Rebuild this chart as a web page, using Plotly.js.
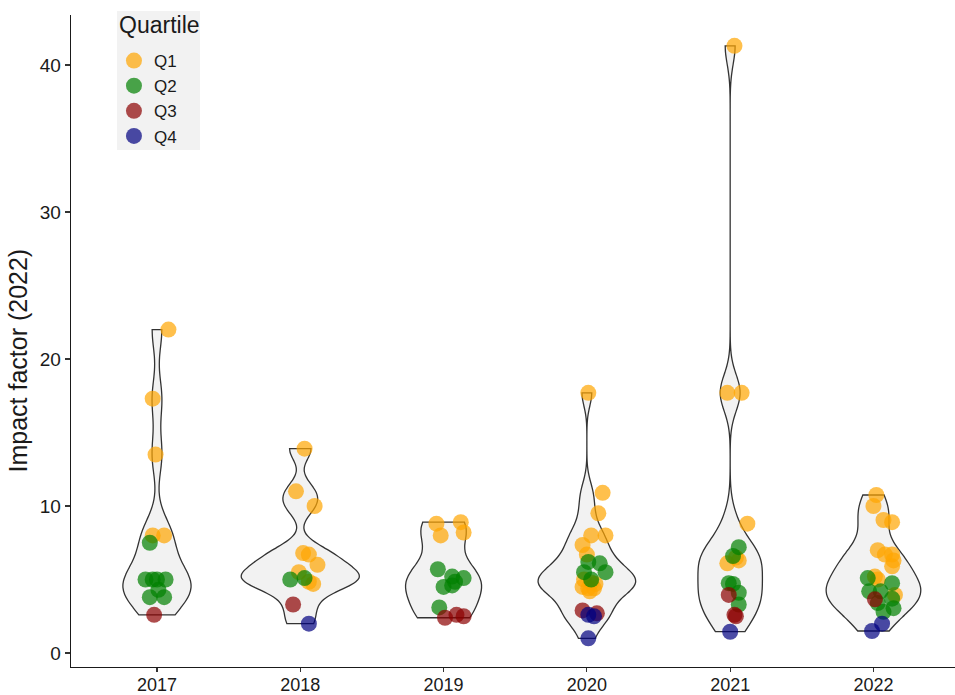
<!DOCTYPE html>
<html>
<head>
<meta charset="utf-8">
<script src="https://cdn.plot.ly/plotly-3.0.1.min.js"></script>
<style>html,body{margin:0;padding:0;background:#fff;}#chart{width:955px;height:695px;}</style>
</head>
<body>
<div id="chart"></div>
<script>
// ---- data ----
const years = ['2017', '2018', '2019', '2020', '2021', '2022'];
const quartiles = ['Q1', 'Q2', 'Q3', 'Q4'];

const pointYear = [
  '2017','2017','2017','2017','2017','2017','2017','2017','2017','2017','2017','2017','2017','2017',
  '2018','2018','2018','2018','2018','2018','2018','2018','2018','2018','2018','2018','2018',
  '2019','2019','2019','2019','2019','2019','2019','2019','2019','2019','2019','2019','2019','2019',
  '2020','2020','2020','2020','2020','2020','2020','2020','2020','2020','2020','2020','2020','2020',
  '2020','2020','2020','2020','2020','2020','2020','2020','2020','2020',
  '2021','2021','2021','2021','2021','2021','2021','2021','2021','2021','2021','2021','2021','2021',
  '2021','2021','2021',
  '2022','2022','2022','2022','2022','2022','2022','2022','2022','2022','2022','2022','2022','2022',
  '2022','2022','2022','2022','2022','2022','2022','2022','2022'
];
const pointQuartile = [
  'Q1','Q1','Q1','Q1','Q1','Q2','Q2','Q2','Q2','Q2','Q2','Q2','Q2','Q3',
  'Q1','Q1','Q1','Q1','Q1','Q1','Q1','Q1','Q1','Q2','Q2','Q3','Q4',
  'Q1','Q1','Q1','Q1','Q2','Q2','Q2','Q2','Q2','Q2','Q2','Q3','Q3','Q3',
  'Q1','Q1','Q1','Q1','Q1','Q1','Q1','Q1','Q1','Q1','Q1','Q1','Q1','Q1',
  'Q2','Q2','Q2','Q2','Q2','Q3','Q3','Q4','Q4','Q4',
  'Q1','Q1','Q1','Q1','Q1','Q1','Q1','Q2','Q2','Q2','Q2','Q2','Q2','Q3',
  'Q3','Q3','Q4',
  'Q1','Q1','Q1','Q1','Q1','Q1','Q1','Q1','Q1','Q1','Q1','Q1','Q2','Q2',
  'Q2','Q2','Q2','Q2','Q2','Q2','Q3','Q4','Q4'
];
const impactFactor = [
  22.0, 17.3, 13.5, 8.0, 8.0, 7.5, 5.0, 5.0, 5.0, 5.0, 4.3, 3.8, 3.8, 2.6,
  13.9, 11.0, 10.0, 6.8, 6.7, 6.0, 5.5, 4.85, 4.7, 5.0, 5.1, 3.3, 2.0,
  8.8, 8.9, 8.0, 8.2, 5.7, 5.2, 5.1, 4.85, 4.5, 4.6, 3.1, 2.4, 2.6, 2.5,
  17.7, 10.9, 9.5, 8.0, 8.0, 7.35, 6.7, 5.0, 4.8, 4.7, 4.5, 4.4, 4.4, 4.2,
  6.2, 6.1, 5.5, 5.5, 5.0, 2.9, 2.7, 2.6, 2.5, 1.0,
  41.3, 17.7, 17.7, 8.8, 6.1, 6.3, 6.5, 7.2, 6.6, 4.75, 4.7, 4.1, 3.3, 3.95,
  2.6, 2.5, 1.45,
  10.75, 10.0, 9.05, 8.9, 7.0, 6.7, 6.7, 6.3, 5.9, 5.2, 5.0, 3.95, 5.1, 4.75,
  4.2, 4.2, 3.4, 3.7, 3.05, 2.8, 3.65, 2.0, 1.5
];
// horizontal jitter of each point (category units)
const jitterOffset = [
  0.08, -0.03, -0.01, -0.03, 0.05, -0.05, -0.08, -0.03, 0.00, 0.06, 0.01, -0.05, 0.05, -0.02,
  0.03, -0.03, 0.10, 0.02, 0.06, 0.12, -0.01, 0.06, 0.09, -0.07, 0.03, -0.05, 0.06,
  -0.05, 0.12, -0.02, 0.14, -0.04, 0.06, 0.14, 0.08, 0.00, 0.06, -0.03, 0.01, 0.09, 0.14,
  0.01, 0.11, 0.08, 0.03, 0.13, -0.03, 0.00, -0.02, 0.03, 0.06, -0.03, 0.01, 0.05, 0.02,
  0.01, 0.09, 0.13, -0.02, 0.03, -0.03, 0.07, 0.01, 0.05, 0.01,
  0.03, -0.02, 0.08, 0.12, -0.02, 0.06, 0.04, 0.06, 0.02, -0.01, 0.02, 0.06, 0.06, -0.01,
  0.03, 0.04, 0.00,
  0.02, 0.00, 0.07, 0.13, 0.03, 0.08, 0.13, 0.14, 0.13, 0.01, 0.03, 0.15, -0.04, 0.13,
  -0.03, 0.05, 0.03, 0.13, 0.14, 0.07, 0.01, 0.06, -0.01
];
const yAxisTitle = 'Impact factor (2022)';
const legendTitle = 'Quartile';

// ---- styles ----
const quartileColors = {
  Q1: 'rgba(255,165,0,0.7)',
  Q2: 'rgba(0,128,0,0.7)',
  Q3: 'rgba(139,0,0,0.7)',
  Q4: 'rgba(0,0,128,0.7)'
};
const violinWidths = [0.475, 0.82, 0.53, 0.68, 0.45, 0.66];
const FONT = 'Arial, "Liberation Sans", sans-serif';
const TEXT = '#1a1a1a';

// R's bw.nrd0 bandwidth (ggplot2 default)
function quantile7(sorted, p) {
  const h = (sorted.length - 1) * p, lo = Math.floor(h);
  const hi = Math.min(lo + 1, sorted.length - 1);
  return sorted[lo] + (h - lo) * (sorted[hi] - sorted[lo]);
}
function nrd0(values) {
  const s = values.slice().sort((a, b) => a - b);
  const n = s.length;
  const mean = s.reduce((a, b) => a + b, 0) / n;
  const sd = Math.sqrt(s.reduce((a, b) => a + (b - mean) * (b - mean), 0) / (n - 1));
  const iqr = quantile7(s, 0.75) - quantile7(s, 0.25);
  let lo = Math.min(sd, iqr / 1.34);
  if (!(lo > 0)) lo = sd || Math.abs(s[0]) || 1;
  return 0.9 * lo * Math.pow(n, -0.2);
}

const traces = [];
years.forEach((yr, i) => {
  const vals = impactFactor.filter((v, k) => pointYear[k] === yr);
  traces.push({
    type: 'violin',
    x0: i + 1,
    y: vals,
    width: violinWidths[i],
    bandwidth: nrd0(vals),
    spanmode: 'hard',
    scalemode: 'width',
    points: false,
    box: { visible: false },
    meanline: { visible: false },
    fillcolor: '#F2F2F2',
    line: { color: '#333333', width: 1.3 },
    showlegend: false,
    hoverinfo: 'skip'
  });
});

quartiles.forEach(q => {
  const xs = [], ys = [];
  impactFactor.forEach((v, k) => {
    if (pointQuartile[k] !== q) return;
    xs.push(years.indexOf(pointYear[k]) + 1 + jitterOffset[k]);
    ys.push(v);
  });
  traces.push({
    type: 'scatter',
    mode: 'markers',
    name: q,
    x: xs,
    y: ys,
    marker: { color: quartileColors[q], size: 16, line: { width: 0 } },
    hoverinfo: 'skip'
  });
});

const axisCommon = {
  showline: true,
  linecolor: TEXT,
  linewidth: 1.4,
  ticks: 'outside',
  ticklen: 5,
  tickwidth: 1.2,
  tickcolor: '#333333',
  tickfont: { family: FONT, size: 19, color: TEXT },
  showgrid: false,
  zeroline: false,
  fixedrange: true
};

const layout = {
  width: 955,
  height: 695,
  margin: { l: 71, r: 0, t: 15, b: 28 },
  paper_bgcolor: '#ffffff',
  plot_bgcolor: '#ffffff',
  font: { family: FONT, color: TEXT },
  xaxis: Object.assign({}, axisCommon, {
    range: [0.4, 6.569],
    tickmode: 'array',
    tickvals: years.map((y, i) => i + 1),
    ticktext: years,
    ticklen: 4,
    tickfont: { family: FONT, size: 18, color: TEXT },
    ticklabelstandoff: -3
  }),
  yaxis: Object.assign({}, axisCommon, {
    range: [-0.95, 43.4],
    tickmode: 'array',
    tickvals: [0, 10, 20, 30, 40],
    ticktext: ['0', '10', '20', '30', '40']
  }),
  // legend key background panel (covers title and entries, as in the reference)
  shapes: [{
    type: 'rect', xref: 'paper', yref: 'paper', layer: 'below',
    x0: 0.052, x1: 0.146, y0: 0.793, y1: 1.006,
    fillcolor: '#F2F2F2', line: { width: 0 }
  }],
  annotations: [
    {
      text: yAxisTitle, textangle: -90,
      xref: 'paper', yref: 'paper', x: -0.06, y: 0.47,
      xanchor: 'center', yanchor: 'middle', showarrow: false,
      font: { family: FONT, size: 25, color: TEXT }
    },
    {
      text: legendTitle,
      xref: 'paper', yref: 'paper', x: 0.0525, y: 0.985,
      xanchor: 'left', yanchor: 'middle', showarrow: false,
      font: { family: FONT, size: 23, color: TEXT }
    }
  ],
  showlegend: true,
  legend: {
    x: 0.0486, y: 0.957, xanchor: 'left', yanchor: 'top',
    bgcolor: 'rgba(0,0,0,0)',
    borderwidth: 0,
    font: { family: FONT, size: 17, color: TEXT },
    itemsizing: 'trace',
    tracegroupgap: 0
  }
};

Plotly.newPlot('chart', traces, layout, { displayModeBar: false, staticPlot: true });
</script>
</body>
</html>
